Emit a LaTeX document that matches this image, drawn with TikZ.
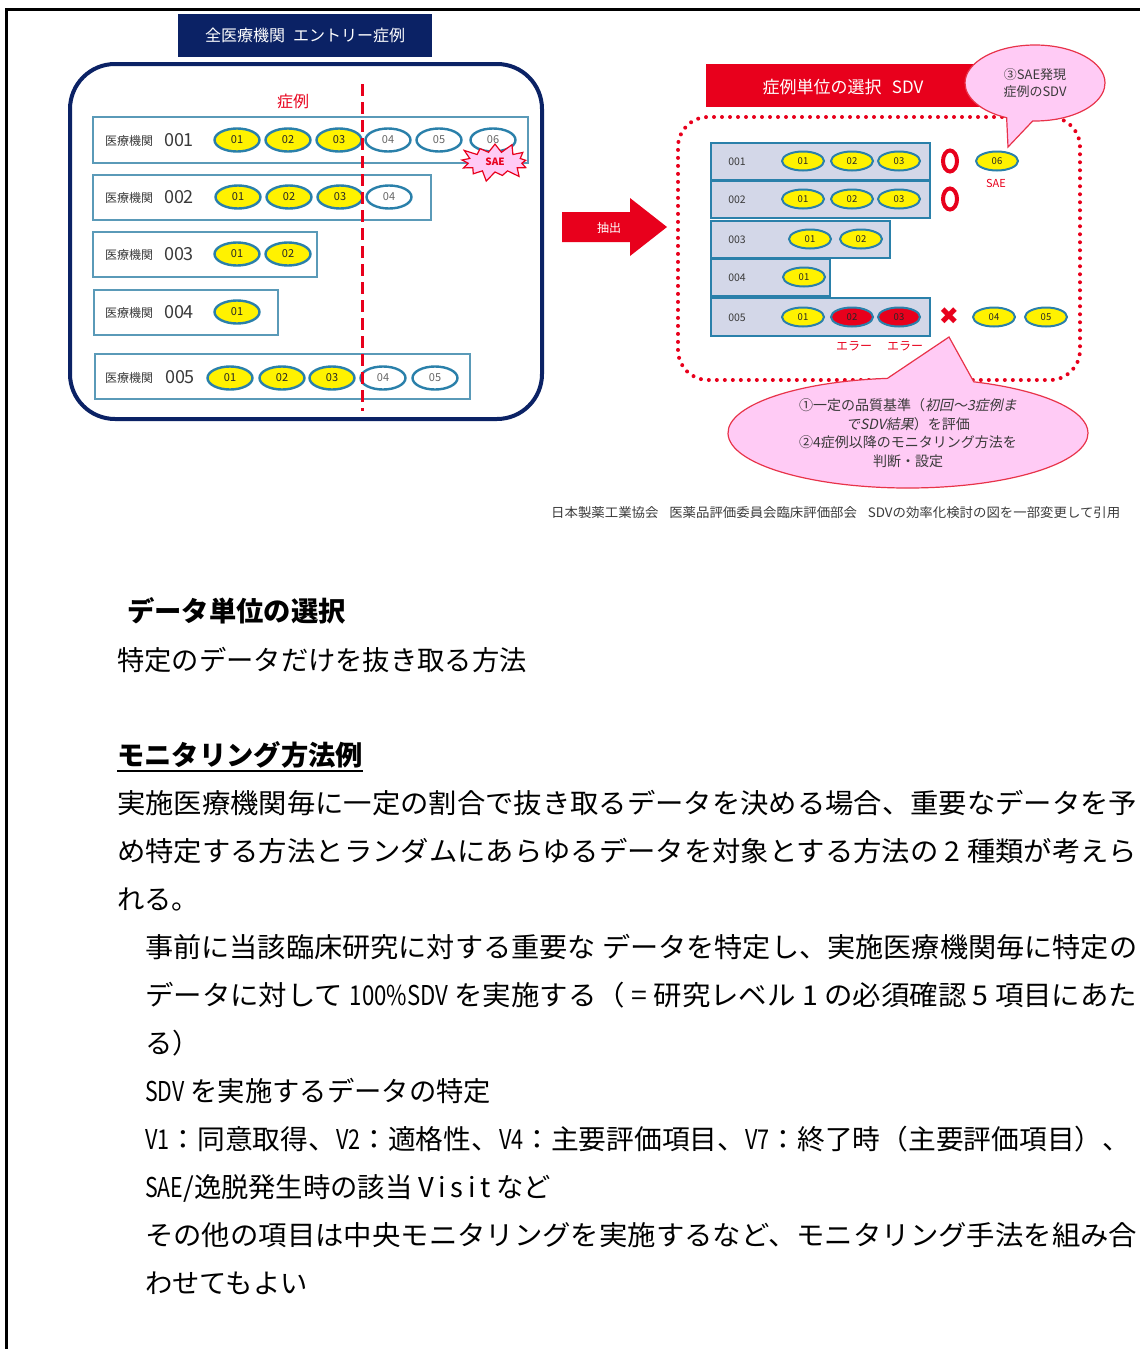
\documentclass[tikz,border=0pt]{standalone}
\usepackage{fontspec}
\usepackage{graphicx}
\setmainfont{Noto Sans CJK JP}
\newfontfamily\dejavu{DejaVu Sans}
\newfontfamily\cjkit[FakeSlant=0.2]{Noto Sans CJK JP}
\usetikzlibrary{shapes.geometric,shapes.symbols,shapes.arrows,shapes.callouts}
\definecolor{navy}{HTML}{0B2265}
\definecolor{rowedge}{HTML}{5A9AB8}
\definecolor{elledge}{HTML}{2A80AA}
\definecolor{rowfill}{HTML}{D3D7E8}
\definecolor{ered}{HTML}{E8001C}
\definecolor{pinkfill}{HTML}{FFCBF5}
\definecolor{pinkedge}{HTML}{E8334A}
\definecolor{txtgray}{HTML}{3A3A3A}
\newcommand\fs[1]{\fontsize{#1}{#1}\selectfont}
\newcommand\nar[1]{\scalebox{0.78}[1]{#1}}
\tikzset{
  lrow/.style={draw=rowedge, line width=1.6pt, fill=white, inner sep=0pt},
  lyel/.style={ellipse, draw=elledge, line width=2.4pt, fill=yellow, minimum width=45pt, minimum height=23pt, inner sep=0pt, font=\fs{11}, text=black!85},
  lwht/.style={lyel, fill=white, text=black!60},
  lname/.style={font=\fs{12}, text=txtgray, inner sep=0pt},
  lnum/.style={font=\fs{18}, text=txtgray, inner sep=0pt},
  rrow/.style={draw=elledge, line width=2pt, fill=rowfill, inner sep=0pt},
  ryel/.style={ellipse, draw=elledge, line width=2pt, fill=yellow, minimum width=42pt, minimum height=19pt, inner sep=0pt, font=\fs{9.5}, text=black!85},
  rred/.style={ryel, fill=ered},
  rnum/.style={font=\fs{10.5}, text=txtgray, inner sep=0pt},
  omark/.style={ellipse, draw=ered, line width=4pt, minimum width=14pt, minimum height=21pt, inner sep=0pt},
  redtxt/.style={text=ered, inner sep=0pt},
  bubble/.style={fill=pinkfill, draw=pinkedge, line width=1.2pt, align=center, text=txtgray, inner sep=0pt},
  body/.style={anchor=base west, inner sep=0pt, font=\fs{27.3}, text=black},
}
\begin{document}
\begin{tikzpicture}[x=1pt, y=-1pt]
\useasboundingbox (0,0) rectangle (1140,1349);
\fill[white] (0,0) rectangle (1140,1349);
\draw[line width=2.5pt] (6.5,1349) -- (6.5,9.5) -- (1140,9.5);

% ---------------- left diagram ----------------
\node[draw=navy, line width=4pt, rounded corners=45pt, minimum width=472pt, minimum height=355pt, inner sep=0pt] (allbox) at (306,241.5) {};
\node[fill=navy, minimum width=254pt, minimum height=43pt, inner sep=0pt, text=white, font=\fs{16}] (ltitle) at (305,35.5) {全医療機関\hspace{0.5em}エントリー症例};
\node[redtxt, font=\fs{16}] (case) at (293,101) {症例};

\node[lrow, minimum width=435pt, minimum height=46pt] (r1) at (310.5,140) {};
\node[lrow, minimum width=338pt, minimum height=45pt] (r2) at (262,197.5) {};
\node[lrow, minimum width=224pt, minimum height=45pt] (r3) at (205,254.5) {};
\node[lrow, minimum width=184pt, minimum height=45pt] (r4) at (186,312.5) {};
\node[lrow, minimum width=375pt, minimum height=45pt] (r5) at (282.5,376.5) {};

\foreach \n/\y in {1/141,2/198,3/255,4/313,5/378} {
  \node[lname] (nm\n) at (129,\y) {医療機関};
}
\node[lnum] (id1) at (179,140) {001};
\node[lnum] (id2) at (179,197) {002};
\node[lnum] (id3) at (179,254) {003};
\node[lnum] (id4) at (179,312) {004};
\node[lnum] (id5) at (180,377) {005};

\foreach \x/\t in {237/01,288/02,339/03} \node[lyel] (a\t) at (\x,140) {\t};
\foreach \x/\t in {388/04,439/05,493/06} \node[lwht] (a\t) at (\x,140) {\t};
\foreach \x/\t in {238/01,289/02,340/03} \node[lyel] (b\t) at (\x,197) {\t};
\node[lwht] (b04) at (389,197) {04};
\foreach \x/\t in {237/01,288/02} \node[lyel] (c\t) at (\x,254) {\t};
\node[lyel] (d01) at (237,312) {01};
\foreach \x/\t in {230/01,282/02,332/03} \node[lyel] (e\t) at (\x,378) {\t};
\foreach \x/\t in {383/04,435/05} \node[lwht] (e\t) at (\x,378) {\t};

\coordinate (cutTop) at (362,84);
\coordinate (cutBot) at (362,411);
\draw[ered, line width=3pt, dash pattern=on 12pt off 6pt] (cutTop) -- (cutBot);

\node[starburst, starburst points=13, starburst point height=11pt, fill=pinkfill, draw=ered, line width=1.2pt, minimum width=76pt, minimum height=42pt, inner sep=0pt, text=ered, font=\fs{10}\bfseries] (sae) at (495,162) {SAE};

% ---------------- arrow ----------------
\fill[ered] (562,212) -- (630,212) -- (630,198) -- (667,227) -- (630,256) -- (630,242) -- (562,242) -- cycle;
\node[text=white, font=\fs{12}, inner sep=0pt] (arrowtxt) at (609,228) {抽出};

% ---------------- right diagram ----------------
\node[fill=ered, minimum width=294pt, minimum height=43pt, inner sep=0pt] (banner) at (853,85.5) {};
\node[text=white, font=\fs{17}, inner sep=0pt] (bannertxt) at (843,87) {症例単位の選択\hspace{0.6em}SDV};

\node[draw=ered, line width=4pt, dash pattern=on 0pt off 8pt, line cap=round, rounded corners=30pt, minimum width=402pt, minimum height=263pt, inner sep=0pt] (frame) at (879,248.5) {};

\node[rrow, minimum width=219pt, minimum height=37pt] (s1) at (820.5,161.5) {};
\node[rrow, minimum width=219pt, minimum height=37pt] (s2) at (820.5,199.5) {};
\node[rrow, minimum width=179pt, minimum height=37pt] (s3) at (800.5,239.5) {};
\node[rrow, minimum width=119pt, minimum height=37pt] (s4) at (770.5,277.5) {};
\node[rrow, minimum width=219pt, minimum height=38pt] (s5) at (820.5,317) {};

\node[rnum] (sid1) at (737,162) {001};
\node[rnum] (sid2) at (737,200) {002};
\node[rnum] (sid3) at (737,240) {003};
\node[rnum] (sid4) at (737,278) {004};
\node[rnum] (sid5) at (737,318) {005};

\foreach \x/\t in {803/01,852/02,899/03} \node[ryel] (f\t) at (\x,161) {\t};
\foreach \x/\t in {803/01,852/02,899/03} \node[ryel] (g\t) at (\x,199) {\t};
\foreach \x/\t in {810/01,861/02} \node[ryel] (h\t) at (\x,239) {\t};
\node[ryel] (i01) at (804,277) {01};
\node[ryel] (j01) at (803,317) {01};
\node[rred] (j02) at (852,317) {02};
\node[rred] (j03) at (899,317) {03};
\node[ryel] (j04) at (994,317) {04};
\node[ryel] (j05) at (1046,317) {05};
\node[ryel] (f06) at (997,161) {06};

\node[omark] (ok1) at (950,161) {};
\node[omark] (ok2) at (950,199) {};
\node[text=ered, font=\dejavu\fs{24}, inner sep=0pt] (ng) at (949,316) {✖};
\node[redtxt, font=\fs{11}] (saelbl) at (996,183) {SAE};
\node[redtxt, font=\fs{12}] (err1) at (854,346) {エラー};
\node[redtxt, font=\fs{12}] (err2) at (905,346) {エラー};

\coordinate (tipTop) at (1008,147);
\node[ellipse callout, bubble, minimum width=140pt, minimum height=76pt, callout absolute pointer={(tipTop)}, callout pointer arc=22, font=\fontsize{13}{17}\selectfont] (bub1) at (1035,83) {③SAE発現\\症例のSDV};

\coordinate (tipBot) at (949,337);
\node[ellipse callout, bubble, minimum width=360pt, minimum height=110pt, callout absolute pointer={(tipBot)}, callout pointer arc=28, font=\fontsize{14}{18.5}\selectfont] (bub2) at (908,433) {①一定の品質基準（{\cjkit 初回～3症例ま}\\{\cjkit でSDV結果}）を評価\\②4症例以降のモニタリング方法を\\判断・設定};

\node[anchor=west, inner sep=0pt, text=txtgray, font=\fs{13}] (cite) at (551,513) {\resizebox{569pt}{\height}{日本製薬工業協会\hspace{0.8em}医薬品評価委員会臨床評価部会\hspace{0.8em}SDVの効率化検討の図を一部変更して引用}};

% ---------------- body text ----------------
\node[body, font=\fs{27.3}\bfseries] (h1) at (127,621) {データ単位の選択};
\node[body] (t1) at (117,670) {特定のデータだけを抜き取る方法};
\node[body, font=\fs{27.3}\bfseries] (h2) at (117,765) {モニタリング方法例};
\draw[line width=1.8pt] ([yshift=-6pt]h2.base west) -- ([yshift=-6pt]h2.base east);

\node[body] (p1) at (117,813) {\resizebox{1020pt}{\height}{実施医療機関毎に一定の割合で抜き取るデータを決める場合、重要なデータを予}};
\node[body] (p2) at (117,861) {\resizebox{1020pt}{\height}{め特定する方法とランダムにあらゆるデータを対象とする方法の 2 種類が考えら}};
\node[body] (p3) at (117,909) {れる。};

\node[body] (q1) at (145,957) {\resizebox{992pt}{\height}{事前に当該臨床研究に対する重要な データを特定し、実施医療機関毎に特定の}};
\node[body] (q2) at (145,1005) {\resizebox{992pt}{\height}{データに対して \nar{100\%SDV} を実施する（ = 研究レベル 1 の必須確認 5 項目にあた}};
\node[body] (q3) at (145,1053) {る）};
\node[body] (q4) at (145,1101) {\nar{SDV} を実施するデータの特定};
\node[body] (q5) at (145,1149) {\resizebox{985pt}{\height}{\nar{V1}：同意取得、\nar{V2}：適格性、\nar{V4}：主要評価項目、\nar{V7}：終了時（主要評価項目）、}};
\node[body] (q6) at (145,1197) {\nar{SAE}/逸脱発生時の該当 V\,i\,s\,i\,t など};
\node[body] (q7) at (145,1245) {\resizebox{992pt}{\height}{その他の項目は中央モニタリングを実施するなど、モニタリング手法を組み合}};
\node[body] (q8) at (145,1293) {わせてもよい};
\end{tikzpicture}
\end{document}
